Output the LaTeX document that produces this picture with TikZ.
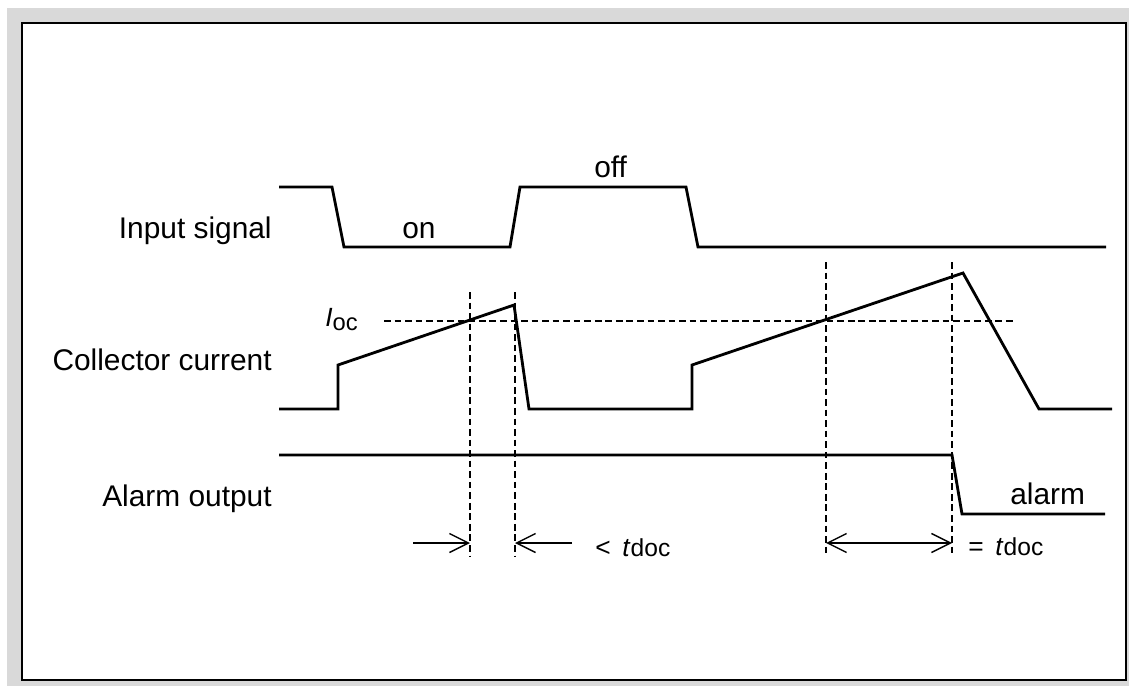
\documentclass[tikz,border=0pt]{standalone}
\usepackage{fontspec}
\setmainfont{Liberation Sans}
\usepackage{tikz}
\usetikzlibrary{arrows.meta, positioning}
\definecolor{framegray}{HTML}{D9D9D9}

\begin{document}
\begin{tikzpicture}[x=0.02cm, y=-0.02cm,
            wave/.style={line width=1.6pt, line join=miter},
            guide/.style={line width=0.7pt, dash pattern=on 3.8pt off 2.2pt},
            dim/.style={line width=0.8pt},
            lab/.style={font=\fontsize{17}{20}\selectfont, inner sep=0},
            small/.style={font=\fontsize{15}{17}\selectfont, inner sep=0},
            >={Straight Barb[length=0.38cm, width=0.38cm]}]
            \useasboundingbox (0,0) rectangle (1129,686);
            % Frame
            \fill[framegray] (7,8) rectangle (1129,686);
            \draw[line width=1.2pt, fill=white] (22,23) rectangle (1126,680);

            % Row labels
            \node[lab, anchor=base east] (insig) at (272,238) {Input signal};
            \node[lab, anchor=base east] (collcur) at (272,370) {Collector current};
            \node[lab, anchor=base east] (alarmout) at (272,506) {Alarm output};

            % Input signal
            \draw[wave] (279,187) -- (332,187) -- (344,247) -- (510,247) -- (520,187)
                -- (686,187) -- (698,247) -- (1106,247);
            \node[lab, anchor=base west] (on) at (402,238) {on};
            \node[lab, anchor=base west] (off) at (594,177) {off};

            % Collector current
            \draw[wave] (279,409) -- (338,409) -- (338,365) -- (514,305) -- (529,409)
                -- (692,409) -- (692,365) -- (963,273) -- (1039,409) -- (1112,409);
            \draw[guide, line width=0.8pt] (384,321) -- (1015,321);
            \node[small, font=\fontsize{15}{17}\selectfont, anchor=base west] (ioc) at (325,326)
                {\textit{I}\raisebox{-2.7pt}{\fontsize{13.5}{15}\selectfont oc}};

            % Alarm output
            \draw[wave] (279,455) -- (952,455) -- (962,514) -- (1105,514);
            \node[lab, anchor=base west] (alarm) at (1010,504) {alarm};

            % Timing guides
            \foreach \x/\top/\nm in {470/292/ga, 515/292/gb, 826/262/gc, 952/262/gd} {
                \draw[guide] (\x,\top) -- (\x,557);
                \coordinate (\nm) at (\x,543);
            }
            \coordinate (la) at (413,543);
            \coordinate (lb) at (572,543);
            \draw[dim, ->] (la) -- (ga);
            \draw[dim, ->] (lb) -- (gb);
            \draw[dim, <->] (gc) -- (gd);
            \node[small, anchor=base west] (less) at (595,556)
                {<\, \textit{t}{\fontsize{14}{16}\selectfont doc}};
            \node[small, anchor=base west] (equal) at (968,555)
                {=\, \textit{t}{\fontsize{14}{16}\selectfont doc}};
        \end{tikzpicture}
\end{document}
